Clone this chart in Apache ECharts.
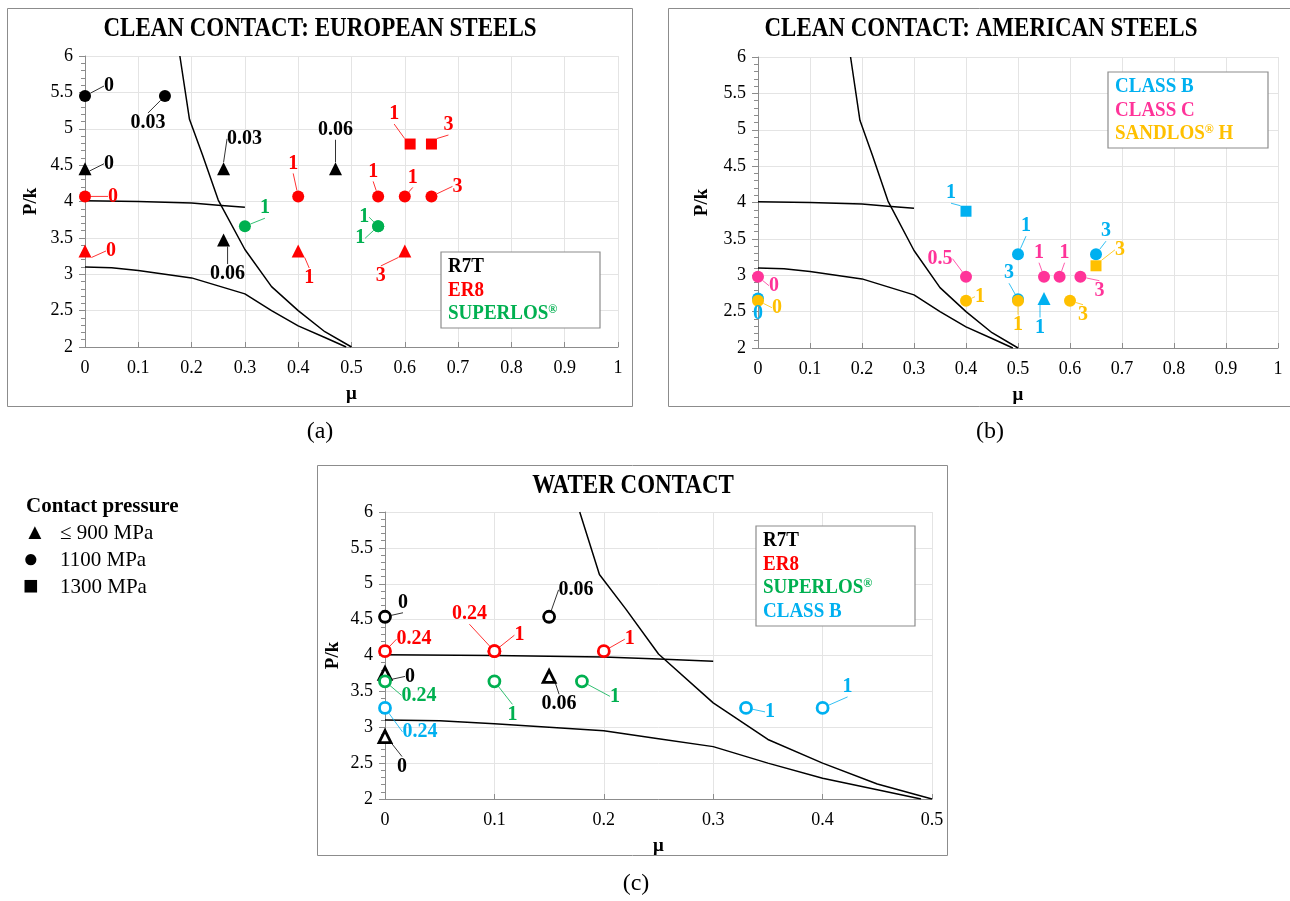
<!DOCTYPE html>
<html>
<head>
<meta charset="utf-8">
<script src="https://cdn.jsdelivr.net/npm/echarts@6/dist/echarts.min.js"></script>
<style>
  html, body { margin: 0; padding: 0; background: #fff; }
  #main { width: 1290px; height: 901px; }
</style>
</head>
<body>
<div id="main"></div>
<script>
// boundary curves (same in all three panels): [mu, P/k]
const curveSteep = [[0.178, 6], [0.196, 5.13], [0.22, 4.65], [0.25, 4.02], [0.3, 3.34], [0.35, 2.83], [0.4, 2.5], [0.45, 2.21], [0.5, 2.0]];
const curveFlat = [[0, 4.01], [0.1, 4.0], [0.2, 3.98], [0.25, 3.95], [0.3, 3.92]];
const curveLow = [[0, 3.1], [0.05, 3.09], [0.1, 3.05], [0.15, 3.0], [0.2, 2.95], [0.25, 2.84], [0.3, 2.73], [0.35, 2.5], [0.4, 2.29], [0.45, 2.13], [0.49, 2.0]];

// (a) clean contact, european steels: [mu, P/k, label]
const r7tCircleA = [[0, 5.45, '0'], [0.15, 5.45, '0.03']];
const r7tTriA = [[0, 4.45, '0'], [0.26, 4.45, '0.03'], [0.47, 4.45, '0.06'], [0.26, 3.47, '0.06']];
const er8CircleA = [[0, 4.07, '0'], [0.4, 4.07, '1'], [0.55, 4.07, '1'], [0.6, 4.07, '1'], [0.65, 4.07, '3']];
const er8TriA = [[0, 3.32, '0'], [0.4, 3.32, '1'], [0.6, 3.32, '3']];
const er8SquareA = [[0.61, 4.79, '1'], [0.65, 4.79, '3']];
const supCircleA = [[0.3, 3.66, '1'], [0.55, 3.66, '1'], [0.55, 3.66, '1']];

// (b) clean contact, american steels
const classBCircleB = [[0, 2.68, '0'], [0.5, 2.67, '3'], [0.5, 3.29, '1'], [0.65, 3.29, '3']];
const classBTriB = [[0.55, 2.68, '1']];
const classBSquareB = [[0.4, 3.88, '1']];
const classCCircleB = [[0, 2.98, '0'], [0.4, 2.98, '0.5'], [0.55, 2.98, '1'], [0.58, 2.98, '1'], [0.62, 2.98, '3']];
const sandCircleB = [[0, 2.65, '0'], [0.4, 2.65, '1'], [0.5, 2.65, '1'], [0.6, 2.65, '3']];
const sandSquareB = [[0.65, 3.13, '3']];

// (c) water contact
const r7tCircleC = [[0, 4.54, '0'], [0.15, 4.54, '0.06']];
const r7tTriC = [[0, 3.75, '0'], [0.15, 3.71, '0.06'], [0, 2.87, '0']];
const er8CircleC = [[0, 4.06, '0.24'], [0.1, 4.06, '0.24'], [0.1, 4.06, '1'], [0.2, 4.06, '1']];
const supCircleC = [[0, 3.64, '0.24'], [0.1, 3.64, '1'], [0.18, 3.64, '1']];
const classBCircleC = [[0, 3.27, '0.24'], [0.33, 3.27, '1'], [0.4, 3.27, '1']];

// label offsets (px) from each marker, same order as the data above
const offs = {
  r7tCircleA: [[24, -10], [-17, 27]],
  r7tTriA: [[24, -5], [21, -30], [0, -39], [4, 34]],
  er8CircleA: [[28, 0], [-5, -33], [-5, -25], [8, -19], [26, -10]],
  er8TriA: [[26, 0], [11, 27], [-24, 25]],
  er8SquareA: [[-16, -30], [17, -19]],
  supCircleA: [[20, -18], [-14, -9], [-18, 12]],
  classBCircleB: [[0, 15], [-9, -26], [8, -28], [10, -23]],
  classBTriB: [[-4, 29]],
  classBSquareB: [[-15, -18]],
  classCCircleB: [[16, 9], [-26, -18], [-5, -24], [5, -24], [19, 14]],
  sandCircleB: [[19, 7], [14, -4], [0, 24], [13, 14]],
  sandSquareB: [[24, -16]],
  r7tCircleC: [[18, -14], [27, -27]],
  r7tTriC: [[25, 3], [10, 28], [17, 30]],
  er8CircleC: [[29, -12], [-25, -37], [25, -16], [26, -12]],
  supCircleC: [[34, 14], [18, 33], [33, 15]],
  classBCircleC: [[35, 24], [24, 4], [25, -21]]
};

const BLACK = '#000000', RED = '#ff0000', GREEN = '#00b050', CYAN = '#00b0f0', PINK = '#ff3399', AMBER = '#ffc000';
const SERIF = 'Liberation Serif';

const chart = echarts.init(document.getElementById('main'));

function curves(g) {
  return [curveSteep, curveFlat, curveLow].map(d => ({
    type: 'line', xAxisIndex: g, yAxisIndex: g, data: d,
    showSymbol: false, silent: true, z: 1,
    lineStyle: { color: '#000', width: 1.5 }
  }));
}

function pts(key, data, g, symbol, color, hollow) {
  const o = offs[key];
  let size = symbol === 'rect' ? 11 : (symbol === 'triangle' ? 13 : 12);
  return {
    type: 'scatter', xAxisIndex: g, yAxisIndex: g, data: data,
    symbol: symbol,
    symbolSize: hollow ? size - 1 : size,
    itemStyle: hollow
      ? { color: '#fff', borderColor: color, borderWidth: 2.8, opacity: 1 }
      : { color: color, opacity: 1 },
    label: {
      show: true, position: 'inside', formatter: p => p.value[2],
      color: color, fontFamily: SERIF, fontWeight: 'bold', fontSize: 20
    },
    labelLine: { show: true, lineStyle: { color: color, width: 1, opacity: 0.8 } },
    labelLayout: p => ({ dx: o[p.dataIndex][0], dy: o[p.dataIndex][1] }),
    z: 3
  };
}

function xAx(g, max, gap) {
  return {
    type: 'value', gridIndex: g, min: 0, max: max, interval: 0.1,
    name: 'μ', nameLocation: 'middle', nameGap: gap,
    nameTextStyle: { fontFamily: SERIF, fontWeight: 'bold', fontSize: 19, color: '#000' },
    axisLine: { onZero: false, lineStyle: { color: '#8c8c8c' } },
    axisTick: { show: true, inside: true, length: 5, lineStyle: { color: '#8c8c8c' } },
    axisLabel: { fontFamily: SERIF, fontSize: 18, color: '#000', margin: 12 },
    splitLine: { show: true, lineStyle: { color: '#e4e4e4' } }
  };
}

function yAx(g, gap) {
  return {
    type: 'value', gridIndex: g, min: 2, max: 6, interval: 0.5,
    name: 'P/k', nameLocation: 'middle', nameGap: gap, nameRotate: 90,
    nameTextStyle: { fontFamily: SERIF, fontWeight: 'bold', fontSize: 19, color: '#000' },
    axisLine: { show: true, lineStyle: { color: '#8c8c8c' } },
    axisTick: { show: true, length: 6, lineStyle: { color: '#8c8c8c' } },
    minorTick: { show: true, splitNumber: 5, length: 4, lineStyle: { color: '#8c8c8c' } },
    axisLabel: { fontFamily: SERIF, fontSize: 18, color: '#000', margin: 12 },
    splitLine: { show: true, lineStyle: { color: '#e4e4e4' } }
  };
}

function frame(x, y, w, h) {
  return { type: 'rect', shape: { x: x, y: y, width: w, height: h }, style: { fill: null, stroke: '#8c8c8c', lineWidth: 1 }, z: 0, silent: true };
}

function txt(x, y, text, size, weight, color, align, sy) {
  return {
    type: 'text', x: x, y: y, z: 10, silent: true, scaleY: sy || 1,
    style: {
      text: text, fill: color || '#000', font: (weight || 'normal') + ' ' + size + 'px "' + SERIF + '"',
      align: align || 'center', verticalAlign: 'middle',
      rich: { sup: { fontSize: 12, fontWeight: 'bold', fontFamily: SERIF, fill: color, verticalAlign: 'top', padding: [0, 0, 8, 0] } }
    }
  };
}

function legendBox(x, y, w, h, items) {
  const els = [{ type: 'rect', shape: { x: x, y: y, width: w, height: h }, style: { fill: '#fff', stroke: '#8c8c8c', lineWidth: 1.2 }, z: 9, silent: true }];
  items.forEach((it, i) => {
    els.push(txt(x + 7, y + 15 + i * 23.5, it[0], 19, 'bold', it[1], 'left', 1.12));
  });
  return els;
}

const graphics = [
  frame(7.5, 8.5, 625, 398),
  frame(668.5, 8.5, 640, 398),
  frame(317.5, 465.5, 630, 390),
  txt(320, 29, 'CLEAN CONTACT: EUROPEAN STEELS', 23, 'bold', '#000', 'center', 1.15),
  txt(981, 29, 'CLEAN CONTACT: AMERICAN STEELS', 23, 'bold', '#000', 'center', 1.15),
  txt(633, 486, 'WATER CONTACT', 23, 'bold', '#000', 'center', 1.15),
  txt(320, 432, '(a)', 24),
  txt(990, 432, '(b)', 24),
  txt(636, 884, '(c)', 24),
  txt(26, 507, 'Contact pressure', 21, 'bold', '#000', 'left'),
  txt(24, 533, '▲', 22, 'normal', '#000', 'left'),
  txt(23, 560, '●', 26, 'normal', '#000', 'left'),
  txt(23, 587, '■', 26, 'normal', '#000', 'left'),
  txt(60, 533, '≤ 900 MPa', 21, 'normal', '#000', 'left'),
  txt(60, 560, '1100 MPa', 21, 'normal', '#000', 'left'),
  txt(60, 587, '1300 MPa', 21, 'normal', '#000', 'left')
].concat(
  legendBox(441, 252, 159, 76, [['R7T', BLACK], ['ER8', RED], ['SUPERLOS{sup|®}', GREEN]]),
  legendBox(1108, 72, 160, 76, [['CLASS B', CYAN], ['CLASS C', PINK], ['SANDLOS{sup|®} H', AMBER]]),
  legendBox(756, 526, 159, 100, [['R7T', BLACK], ['ER8', RED], ['SUPERLOS{sup|®}', GREEN], ['CLASS B', CYAN]])
);

const option = {
  backgroundColor: '#fff',
  animation: false,
  grid: [
    { left: 85, top: 56, width: 533, height: 291 },
    { left: 758, top: 57, width: 520, height: 291 },
    { left: 385, top: 512, width: 547, height: 287 }
  ],
  xAxis: [xAx(0, 1, 38), xAx(1, 1, 38), xAx(2, 0.5, 38)],
  yAxis: [yAx(0, 44), yAx(1, 46), yAx(2, 42)],
  graphic: graphics,
  series: [].concat(
    curves(0), curves(1), curves(2),
    [
      pts('r7tCircleA', r7tCircleA, 0, 'circle', BLACK),
      pts('r7tTriA', r7tTriA, 0, 'triangle', BLACK),
      pts('er8CircleA', er8CircleA, 0, 'circle', RED),
      pts('er8TriA', er8TriA, 0, 'triangle', RED),
      pts('er8SquareA', er8SquareA, 0, 'rect', RED),
      pts('supCircleA', supCircleA, 0, 'circle', GREEN),

      pts('classBCircleB', classBCircleB, 1, 'circle', CYAN),
      pts('classBTriB', classBTriB, 1, 'triangle', CYAN),
      pts('classBSquareB', classBSquareB, 1, 'rect', CYAN),
      pts('classCCircleB', classCCircleB, 1, 'circle', PINK),
      pts('sandCircleB', sandCircleB, 1, 'circle', AMBER),
      pts('sandSquareB', sandSquareB, 1, 'rect', AMBER),

      pts('r7tCircleC', r7tCircleC, 2, 'circle', BLACK, true),
      pts('r7tTriC', r7tTriC, 2, 'triangle', BLACK, true),
      pts('er8CircleC', er8CircleC, 2, 'circle', RED, true),
      pts('supCircleC', supCircleC, 2, 'circle', GREEN, true),
      pts('classBCircleC', classBCircleC, 2, 'circle', CYAN, true)
    ]
  )
};

chart.setOption(option);
</script>
</body>
</html>
